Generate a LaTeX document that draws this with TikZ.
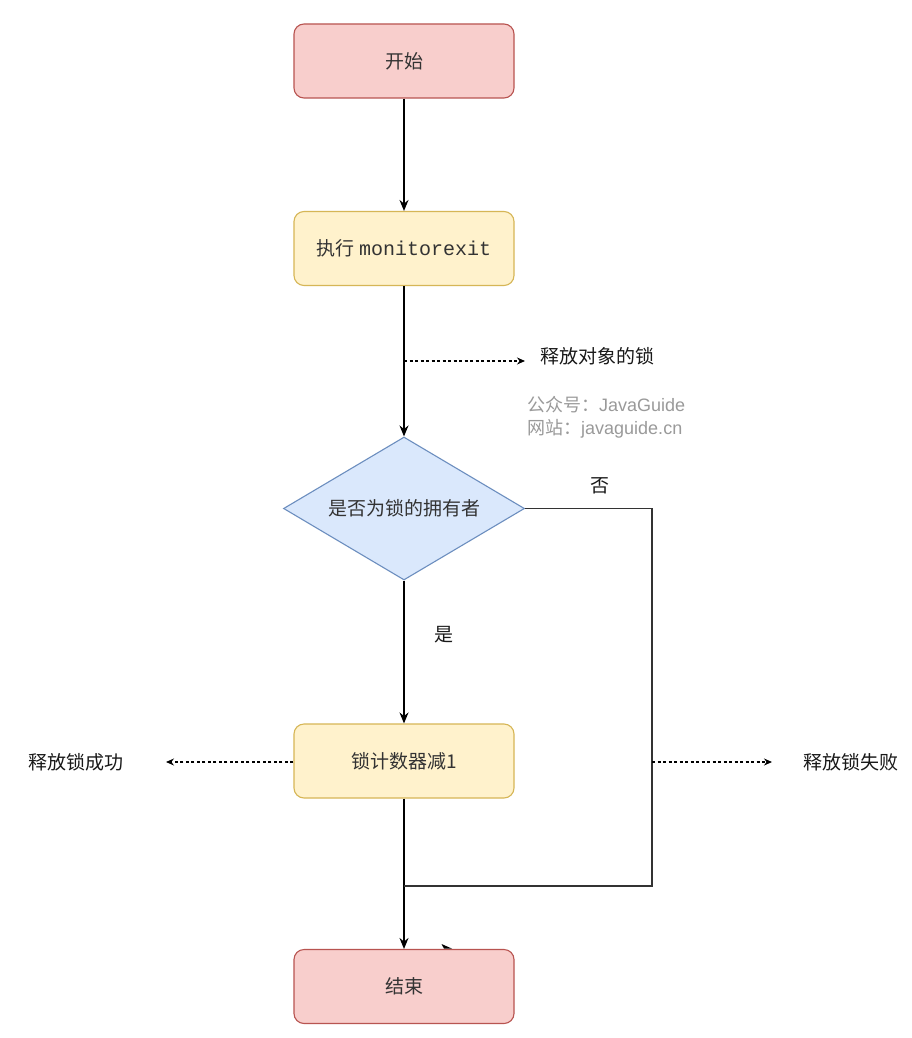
\documentclass[tikz,border=0pt]{standalone}
\usepackage{fontspec}
\setmainfont{Noto Sans CJK SC}
\newfontfamily\codefont{Liberation Mono}
\newfontfamily\latinfont{Liberation Sans}
\usetikzlibrary{shapes.geometric,arrows.meta}
\definecolor{redF}{HTML}{F8CECC}
\definecolor{redB}{HTML}{B85450}
\definecolor{yelF}{HTML}{FFF2CC}
\definecolor{yelB}{HTML}{D6B656}
\definecolor{bluF}{HTML}{DAE8FC}
\definecolor{bluB}{HTML}{6C8EBF}
\definecolor{txt}{HTML}{333333}
\definecolor{wm}{HTML}{9A9A9A}
\definecolor{lineG}{HTML}{333333}
\tikzset{
  base/.style={rounded corners=10pt, minimum width=220pt, minimum height=74pt, line width=1.1pt, text=txt, font=\fontsize{19}{22}\selectfont, inner sep=0pt},
  redbox/.style={base, draw=redB, fill=redF},
  yelbox/.style={base, draw=yelB, fill=yelF},
  decbox/.style={diamond, aspect=1.685, minimum width=241pt, minimum height=143pt, inner sep=0pt, draw=bluB, fill=bluF, line width=1.1pt, text=txt, font=\fontsize{19}{22}\selectfont},
  arr/.style={line width=1.3pt, black, -{Stealth[length=11pt,width=9pt]}},
  darr/.style={line width=1.2pt, black, dash pattern=on 3pt off 2.5pt, -{Stealth[length=8pt,width=7pt]}},
  plain/.style={line width=1.3pt, lineG},
  lbl/.style={text=black!90, font=\fontsize{19}{22}\selectfont, inner sep=0pt},
  wmark/.style={text=wm, font=\fontsize{18}{22}\selectfont, inner sep=0pt, anchor=west}
}
\begin{document}
\begin{tikzpicture}[x=1pt,y=-1pt]
\useasboundingbox (0,0) rectangle (911,1038);
\fill[white] (0,0) rectangle (911,1038);

\node[redbox] (start) at (404,61) {开始};
\node[yelbox] (exec) at (404,248.5) {执行 {\codefont\fontsize{20}{22}\selectfont monitorexit}};
\node[decbox] (dec) at (404,508.5) {是否为锁的拥有者};
\node[yelbox] (cnt) at (404,761) {锁计数器减1};
\node[redbox] (end) at (404,986.5) {结束};

% arrows on main spine
\draw[arr] (start) -- (exec);
\draw[arr] (exec) -- (dec);
\draw[arr] (dec) -- (cnt);
\draw[arr] (cnt) -- (end);

% release object lock
\coordinate (r1s) at (404,361);
\coordinate (r1e) at (525,361);
\draw[darr] (r1s) -- (r1e);
\node[lbl, anchor=west] (r1l) at (540,356) {释放对象的锁};

% watermark
\node[wmark] (wm1) at (527,405) {公众号：{\latinfont JavaGuide}};
\node[wmark] (wm2) at (527,429) {网站：{\latinfont javaguide.cn}};

% no branch
\coordinate (n1) at (652,508.5);
\coordinate (n2) at (652,886);
\coordinate (n3) at (404,886);
\draw[plain] (dec.east) -- (n1) -- (n2) -- (n3);
\node[lbl] (no) at (600,486) {否};
\node[lbl] (yes) at (444,635) {是};

% success / failure
\coordinate (okE) at (166,762);
\draw[darr] (cnt.west |- okE) -- (okE);
\node[lbl] (okl) at (76,762) {释放锁成功};
\coordinate (fS) at (652,762);
\coordinate (fE) at (772,762);
\draw[darr] (fS) -- (fE);
\node[lbl] (fl) at (851,762) {释放锁失败};

% stray arrowhead fragment
\fill[black] (441.5,944) -- (452,948.6) -- (444,948.6) -- cycle;
\end{tikzpicture}
\end{document}
